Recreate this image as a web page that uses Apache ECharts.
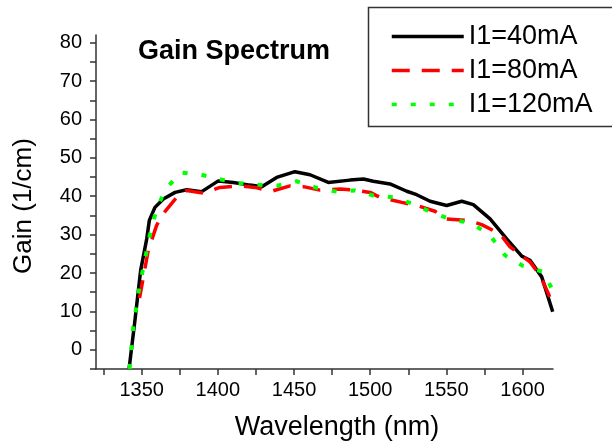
<!DOCTYPE html>
<html>
<head>
<meta charset="utf-8">
<script src="https://cdn.jsdelivr.net/npm/echarts@6/dist/echarts.min.js"></script>
<style>
html,body{margin:0;padding:0;background:#fff;}
#chart{width:612px;height:448px;}
</style>
</head>
<body>
<div id="chart"></div>
<script>
// ---- data ----
var seriesNames = ['I1=40mA', 'I1=80mA', 'I1=120mA'];

var wl40 = [1341.7,1345.6,1349.3,1353.3,1355.0,1358.7,1364.2,1371.9,1379.5,1389.4,1400.3,1410.1,1421.1,1428.8,1438.6,1450.6,1460.5,1472.5,1486.7,1495.5,1502.0,1513.0,1524.0,1530.5,1539.3,1550.2,1560.1,1567.7,1578.7,1589.6,1599.5,1604.9,1612.6,1619.8];
var gain40 = [-5,7.8,20.7,28.9,33.7,37.1,39.3,41.0,41.7,41.2,44.0,43.6,42.9,42.5,44.9,46.4,45.6,43.6,44.2,44.5,43.9,43.2,41.3,40.4,38.7,37.6,38.7,37.8,34.1,28.9,24.4,23.3,19.0,9.9];

var wl80 = [1348.6,1354.3,1359.8,1363.1,1373.0,1379.5,1390.4,1401.4,1414.5,1424.4,1435.3,1447.4,1456.1,1467.0,1480.2,1489.0,1500.0,1506.4,1520.7,1530.5,1542.5,1550.2,1564.4,1573.2,1585.2,1591.8,1604.9,1611.5,1616.9,1619.8];
var gain80 = [13.5,25.9,32.4,35.0,39.7,41.5,40.8,42.3,42.7,42.3,41.3,42.7,42.5,41.6,41.9,41.6,41.0,39.7,38.4,37.6,36.1,34.1,33.7,32.6,30.2,26.8,22.9,19.4,14.7,11.7];

var wl120 = [1342.0,1344.5,1347.8,1351.1,1355.5,1359.8,1365.3,1375.1,1388.3,1400.3,1413.4,1426.5,1439.7,1451.7,1464.9,1478.0,1490.0,1502.0,1515.2,1528.3,1541.4,1553.5,1566.6,1578.7,1588.5,1600.5,1613.6,1619.8];
var gain120 = [-5,6.0,14.7,21.6,30.2,36.7,41.5,46.2,45.7,44.5,43.4,43.0,42.8,43.9,42.2,41.2,41.5,40.2,39.7,38.0,35.6,33.9,33.0,29.8,24.6,21.8,20.3,15.5];

var xTickValues = [1325,1350,1375,1400,1425,1450,1475,1500,1525,1550,1575,1600];
var xLabelValues = [1350,1400,1450,1500,1550,1600];
var yTickValues = [-5,0,5,10,15,20,25,30,35,40,45,50,55,60,65,70,75,80];
var yLabelValues = [0,10,20,30,40,50,60,70,80];

var titleText = 'Gain Spectrum';
var xTitle = 'Wavelength (nm)';
var yTitle = 'Gain (1/cm)';

function pairs(xs, ys){ return xs.map(function(x,i){ return [x, ys[i]]; }); }

var FONT = '"Liberation Sans", Arial, sans-serif';
var chart = echarts.init(document.getElementById('chart'), null, {renderer:'canvas'});

var axisLineStyle = {color:'#333', width:1.5};
var plain = function(v){ return String(v); };

chart.setOption({
  animation: false,
  backgroundColor: '#fff',
  grid: {left: 96, right: 59, top: 35, bottom: 79, containLabel: false},
  xAxis: {
    type: 'value', min: 1320, max: 1620,
    axisLine: {show: true, onZero: false, lineStyle: axisLineStyle},
    axisTick: {show: true, inside: false, length: 6, lineStyle: axisLineStyle, customValues: xTickValues},
    axisLabel: {show: true, margin: 11, fontFamily: FONT, fontSize: 20, color: '#000', customValues: xLabelValues, formatter: plain},
    splitLine: {show: false}
  },
  yAxis: {
    type: 'value', min: -5, max: 82,
    axisLine: {show: true, onZero: false, lineStyle: axisLineStyle},
    axisTick: {show: true, inside: false, length: 6, lineStyle: axisLineStyle, customValues: yTickValues},
    axisLabel: {show: true, margin: 14, fontFamily: FONT, fontSize: 20, color: '#000', customValues: yLabelValues, formatter: plain},
    splitLine: {show: false}
  },
  legend: {
    orient: 'vertical',
    left: 366, top: 5,
    padding: [18, 14, 18, 24],
    itemWidth: 72, itemHeight: 20, itemGap: 7,
    itemStyle: {opacity: 0},
    lineStyle: {width: 3.5},
    textStyle: {fontFamily: FONT, fontSize: 27, color: '#000'},
    data: seriesNames.map(function(n){ return {name: n}; })
  },
  graphic: [
    {type:'rect', left: 366, top: 5, shape:{width:245, height:119}, style:{fill:'none', stroke:'#333', lineWidth:1.5}, silent:true, z:-1},
    {type:'text', x: 138, y: 52, style:{text: titleText, font: 'bold 27px ' + FONT, fill:'#000', verticalAlign:'middle', align:'left'}},
    {type:'text', x: 337, y: 428, style:{text: xTitle, font: '27px ' + FONT, fill:'#000', verticalAlign:'middle', align:'center'}},
    {type:'text', x: 24, y: 206, rotation: Math.PI/2, style:{text: yTitle, font: '26px ' + FONT, fill:'#000', verticalAlign:'middle', align:'center'}}
  ],
  series: [
    {name: seriesNames[0], type:'line', data: pairs(wl40, gain40), symbol:'none', showSymbol:false, z:2,
     lineStyle:{color:'#000', width:3.5, type:'solid'}, itemStyle:{color:'#000'}},
    {name: seriesNames[1], type:'line', data: pairs(wl80, gain80), symbol:'none', showSymbol:false, z:3,
     lineStyle:{color:'#ff0000', width:3.5, type:[18,12]}, itemStyle:{color:'#ff0000'}},
    {name: seriesNames[2], type:'line', data: pairs(wl120, gain120), symbol:'none', showSymbol:false, z:4,
     lineStyle:{color:'#00ff00', width:4, type:[5,14]}, itemStyle:{color:'#00ff00'}}
  ]
});
</script>
</body>
</html>
